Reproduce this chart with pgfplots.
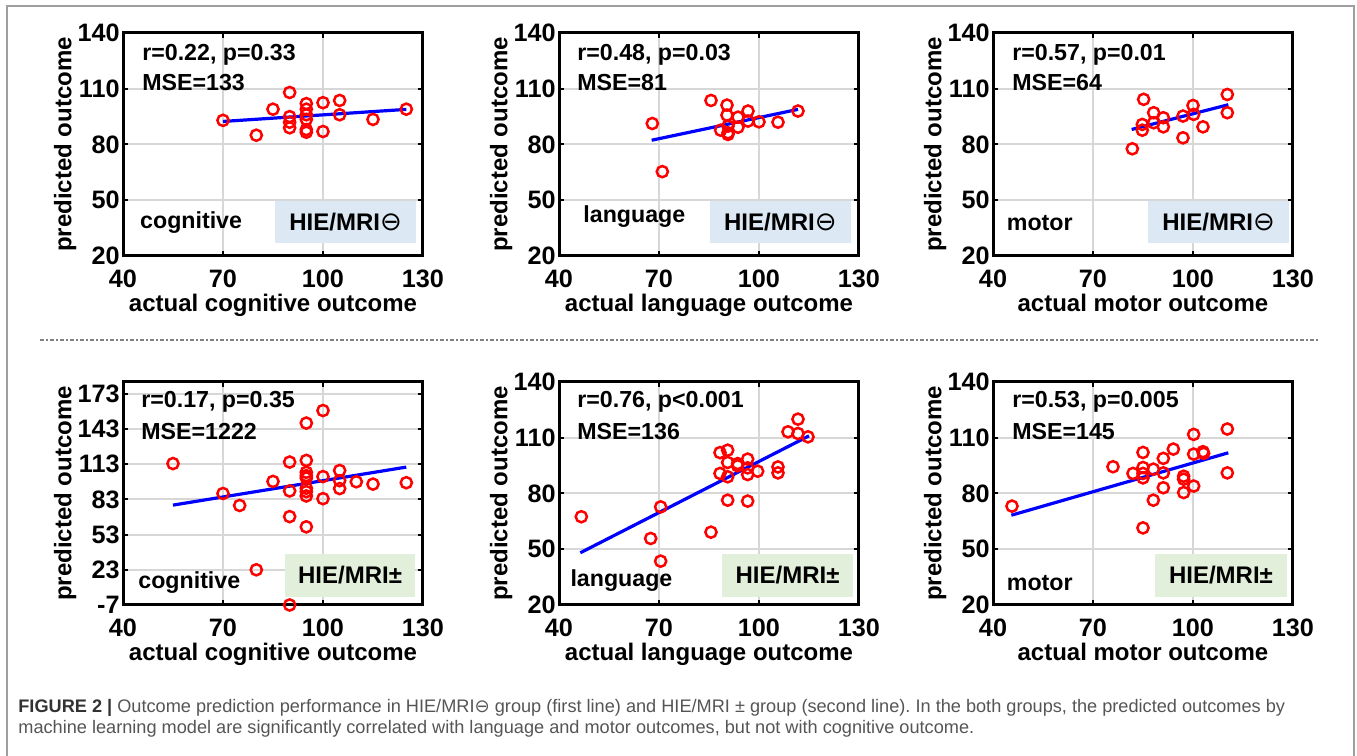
\documentclass[border=0pt]{standalone}
\usepackage{fontspec}
\setmainfont{Liberation Sans}
\newfontfamily\symfont{DejaVu Sans}
\usepackage{pgfplots}
\pgfplotsset{compat=1.18}

\definecolor{boxblue}{RGB}{220,232,244}
\definecolor{boxgreen}{RGB}{226,239,218}
\definecolor{gridgray}{RGB}{215,215,215}
\definecolor{captext}{RGB}{85,85,85}
\definecolor{capbold}{RGB}{50,50,50}

\pgfplotsset{
  panel/.style={
    scale only axis, width=150pt, height=111.5pt,
    anchor=south west,
    xmin=40, xmax=130, xtick={40,70,100,130},
    ymin=20, ymax=140, ytick={20,50,80,110,140},
    axis line style={line width=1.5pt},
    tick align=inside, major tick length=2.5pt,
    every tick/.style={black, line width=1pt},
    grid=major, major grid style={gridgray, line width=1pt},
    /pgf/number format/assume math mode=true,
    ticklabel style={font=\bfseries\fontsize{12.6}{13}\selectfont},
    xticklabel style={anchor=base, yshift=-16pt},
    yticklabel style={inner sep=1.5pt},
    label style={font=\bfseries\fontsize{12}{13}\selectfont},
    xlabel style={at={(axis description cs:0.5,0)}, anchor=base, yshift=-28pt},
    ylabel style={at={(axis description cs:-0.172,0.5)}, anchor=base},
    ylabel={predicted outcome},
  },
  pts/.style={only marks, mark=o, mark size=2.8pt, red, mark options={line width=1.25pt}},
  fit/.style={blue, line width=1.6pt, no marks},
}
\tikzset{
  stat/.style={anchor=west, inner sep=0pt, font=\bfseries\fontsize{11.6}{13}\selectfont},
  tag/.style={font=\bfseries\fontsize{12}{13}\selectfont},
}

\newcommand{\ominusmark}{{\symfont\mdseries\fontsize{13}{13}\selectfont ⊖}}

\begin{document}
\frenchspacing
\begin{tikzpicture}
\useasboundingbox (0,0) rectangle (678.5pt,378pt);
% frame
\draw[gray!75, line width=0.8pt] (3.5pt,-2pt) -- (3.5pt,375pt) -- (677pt,375pt) -- (677pt,-2pt);

% ---- row 1: HIE/MRI minus
\begin{axis}[panel, at={(61.5pt,250pt)}, xlabel={actual cognitive outcome}]
\addplot[pts] coordinates {
  (70,93) (80,85) (85,99) (90,108) (90,95) (90,92) (90,89)
  (95,102) (95,99) (95,96) (95,93.5) (95,88) (95,86.6)
  (100,102.5) (100,87) (105,103.7) (105,96) (115,93.5) (125,99)
};
\addplot[fit] coordinates {(70,92.4) (125,98.9)};
\node[stat] at (rel axis cs:0.063,0.90) {r=0.22, p=0.33};
\node[stat] at (rel axis cs:0.063,0.78) {MSE=133};
\node[stat] at (rel axis cs:0.056,0.15) {cognitive};
\fill[boxblue] (rel axis cs:0.507,0.058) rectangle (rel axis cs:0.977,0.247);
\node[tag] at (rel axis cs:0.742,0.152) {HIE/MRI\ominusmark};
\end{axis}

\begin{axis}[panel, at={(279.5pt,250pt)}, xlabel={actual language outcome}]
\addplot[pts] coordinates {
  (68,91.3) (71,65.4) (85.6,103.7) (90.4,101.2) (90.4,95.8) (88.5,87.7)
  (90.7,86.3) (90.7,85.4) (90.7,89.9) (93.7,89.3) (93.7,94.7)
  (96.7,98) (96.7,92.6) (100,92.2) (105.7,92) (111.7,98)
};
\addplot[fit] coordinates {(67.8,82.3) (111.7,98.9)};
\node[stat] at (rel axis cs:0.06,0.90) {r=0.48, p=0.03};
\node[stat] at (rel axis cs:0.06,0.78) {MSE=81};
\node[stat] at (rel axis cs:0.08,0.175) {language};
\fill[boxblue] (rel axis cs:0.503,0.058) rectangle (rel axis cs:0.973,0.247);
\node[tag] at (rel axis cs:0.738,0.152) {HIE/MRI\ominusmark};
\end{axis}

\begin{axis}[panel, at={(496.5pt,250pt)}, xlabel={actual motor outcome}]
\addplot[pts] coordinates {
  (81.8,77.7) (85.2,104.3) (84.8,90.8) (84.8,87.7) (88.2,97.1) (88.2,91.7)
  (91.1,94.4) (91.1,89.5) (97,83.6) (97,95.3) (100,101) (100.2,96.2)
  (103,89.5) (110.3,106.9) (110.3,97.1)
};
\addplot[fit] coordinates {(81.6,88.1) (110.6,101.4)};
\node[stat] at (rel axis cs:0.063,0.90) {r=0.57, p=0.01};
\node[stat] at (rel axis cs:0.063,0.78) {MSE=64};
\node[stat] at (rel axis cs:0.045,0.15) {motor};
\fill[boxblue] (rel axis cs:0.517,0.058) rectangle (rel axis cs:0.987,0.247);
\node[tag] at (rel axis cs:0.752,0.152) {HIE/MRI\ominusmark};
\end{axis}

% separator
\draw[gray, line width=0.6pt, dash pattern=on 2pt off 1.2pt on 0.6pt off 1.2pt] (20pt,208pt) -- (659pt,208pt);

% ---- row 2: HIE/MRI plus-minus
\begin{axis}[panel, at={(61.5pt,75.5pt)}, ymin=-7, ymax=183,
  ytick={-7,23,53,83,113,143,173}, clip=false, xlabel={actual cognitive outcome}]
\addplot[pts] coordinates {
  (55,113.5) (70,88) (75,77.8) (80,23) (85,98.3) (90,114.8) (90,90.2) (90,68.3) (90,-7)
  (95,148) (95,116.2) (95,106.1) (95,103.2) (95,101.2) (95,92.5) (95,89.6) (95,85.9) (95,59.6)
  (100,158.7) (100,102.4) (100,83.6) (105,107.6) (105,98.9) (105,92.2)
  (110,98) (115,96) (125,97.2)
};
\addplot[fit] coordinates {(55,78.1) (125,110.5)};
\node[stat] at (rel axis cs:0.06,0.91) {r=0.17, p=0.35};
\node[stat] at (rel axis cs:0.06,0.78) {MSE=1222};
\node[stat] at (rel axis cs:0.05,0.10) {cognitive};
\fill[boxgreen] (rel axis cs:0.54,0.036) rectangle (rel axis cs:0.973,0.23);
\node[tag] at (rel axis cs:0.757,0.133) {HIE/MRI±};
\end{axis}

\begin{axis}[panel, at={(279.5pt,75.5pt)}, xlabel={actual language outcome}]
\addplot[pts] coordinates {
  (46.7,67.5) (67.5,55.8) (70.5,72.8) (70.5,43.6) (85.6,59.2) (88.3,102) (88.3,90.8)
  (90.6,103.3) (90.6,96.7) (90.6,89) (90.6,76.4) (93.6,96.1) (93.6,94.9)
  (96.6,98.5) (96.6,93.8) (96.6,90.2) (96.6,75.9) (99.6,92) (105.7,94.3) (105.7,91.1)
  (108.7,113.2) (111.7,120) (111.7,112.3) (114.7,110.5)
};
\addplot[fit] coordinates {(46.4,48.1) (115,111)};
\node[stat] at (rel axis cs:0.06,0.91) {r=0.76, p<0.001};
\node[stat] at (rel axis cs:0.06,0.78) {MSE=136};
\node[stat] at (rel axis cs:0.037,0.11) {language};
\fill[boxgreen] (rel axis cs:0.543,0.036) rectangle (rel axis cs:0.98,0.23);
\node[tag] at (rel axis cs:0.762,0.133) {HIE/MRI±};
\end{axis}

\begin{axis}[panel, at={(496.5pt,75.5pt)}, xlabel={actual motor outcome}]
\addplot[pts] coordinates {
  (45.7,73.2) (76,94.4) (82,90.8) (85,102.1) (85,94) (85,90.8) (85,88.4) (85,61.5)
  (88.1,93.1) (88.1,76.4) (91.1,98.9) (91.1,91.1) (91.1,83.1) (94.1,103.9)
  (97.2,89.3) (97.2,87.7) (97.2,80.5) (100.2,111.8) (100.2,101.2) (100.2,84)
  (103,102.5) (103.2,101.6) (110.3,114.7) (110.3,91.1)
};
\addplot[fit] coordinates {(45.5,68.3) (110.6,101.9)};
\node[stat] at (rel axis cs:0.063,0.91) {r=0.53, p=0.005};
\node[stat] at (rel axis cs:0.063,0.78) {MSE=145};
\node[stat] at (rel axis cs:0.045,0.10) {motor};
\fill[boxgreen] (rel axis cs:0.54,0.036) rectangle (rel axis cs:0.98,0.23);
\node[tag] at (rel axis cs:0.76,0.133) {HIE/MRI±};
\end{axis}

% caption
\node[anchor=base west, inner sep=0pt, text=captext, font=\fontsize{9.08}{10}\selectfont]
  at (9pt,21.6pt) {{\color{capbold}\bfseries FIGURE 2 |} Outcome prediction performance in HIE/MRI{\symfont ⊖} group (first line) and HIE/MRI ± group (second line). In the both groups, the predicted outcomes by};
\node[anchor=base west, inner sep=0pt, text=captext, font=\fontsize{9.08}{10}\selectfont]
  at (9pt,11pt) {machine learning model are significantly correlated with language and motor outcomes, but not with cognitive outcome.};
\end{tikzpicture}
\end{document}
